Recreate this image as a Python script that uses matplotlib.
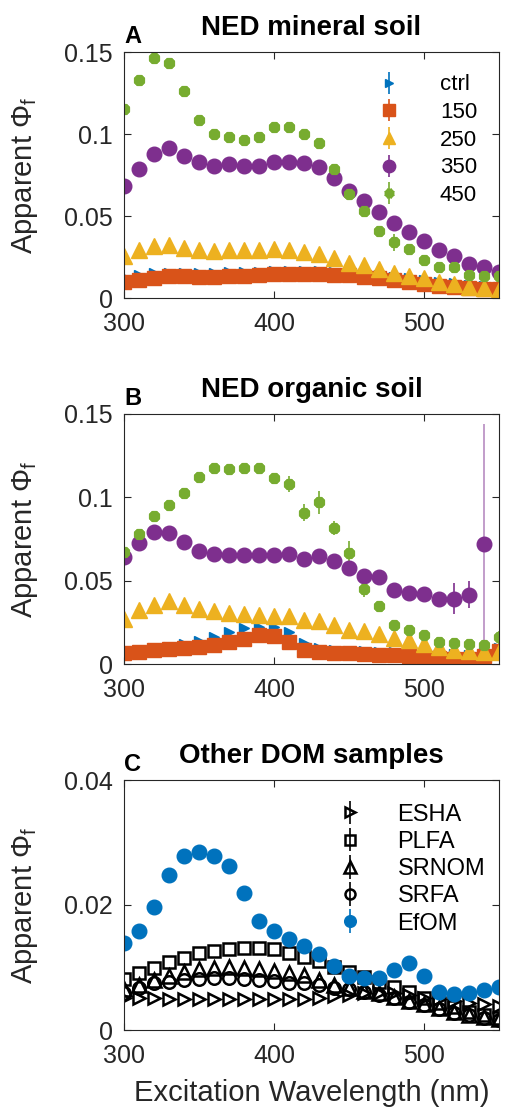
import matplotlib
matplotlib.use('Agg')
import matplotlib.pyplot as plt
import numpy as np

plt.rcParams['font.family'] = ['Liberation Sans', 'DejaVu Sans']
plt.rcParams['mathtext.fontset'] = 'custom'
plt.rcParams['mathtext.rm'] = 'Liberation Sans'

wl = np.arange(300, 551, 10)

# panel A: NED mineral soil
min_ctrl = [0.013, 0.014, 0.015, 0.0155, 0.0155, 0.0155, 0.0155, 0.016, 0.016, 0.016, 0.0165, 0.0165, 0.0165,
            0.0165, 0.016, 0.0155, 0.015, 0.014, 0.013, 0.012, 0.011, 0.0095, 0.009, 0.008, 0.0075, 0.007]
min_150 = [0.0097, 0.011, 0.0125, 0.0135, 0.0135, 0.013, 0.013, 0.0134, 0.0136, 0.014, 0.0145, 0.0145, 0.0145,
           0.0145, 0.0143, 0.014, 0.013, 0.012, 0.011, 0.0097, 0.0087, 0.0075, 0.0067, 0.006, 0.0055, 0.0055]
min_250 = [0.0257, 0.029, 0.0318, 0.0324, 0.0304, 0.029, 0.0284, 0.029, 0.029, 0.029, 0.0298, 0.029, 0.028,
           0.027, 0.0243, 0.0213, 0.020, 0.0178, 0.015, 0.0136, 0.012, 0.0095, 0.0087, 0.007, 0.006, 0.005]
min_350 = [0.0683, 0.0784, 0.0878, 0.0912, 0.0868, 0.0827, 0.0805, 0.0815, 0.0805, 0.0807, 0.0827, 0.0827, 0.0821,
           0.0797, 0.0734, 0.0655, 0.0594, 0.0527, 0.046, 0.0405, 0.0345, 0.0294, 0.0257, 0.0209, 0.0186, 0.0158]
min_450 = [0.1155, 0.1328, 0.1466, 0.143, 0.126, 0.1084, 0.0999, 0.0979, 0.0963, 0.0983, 0.104, 0.104, 0.100,
           0.0943, 0.0784, 0.0634, 0.0531, 0.0409, 0.0339, 0.030, 0.0233, 0.0186, 0.0186, 0.0142, 0.0132, 0.0132]
min_450_err = [0] * 18 + [0.005, 0, 0, 0, 0.003, 0.003, 0.003, 0.003]

# panel B: NED organic soil
org_ctrl = [0.0065, 0.0075, 0.009, 0.0105, 0.012, 0.014, 0.016, 0.019, 0.0215, 0.0225, 0.0225, 0.019, 0.0125,
            0.0095, 0.0085, 0.008, 0.0078, 0.0075, 0.0075, 0.007, 0.0065, 0.006, 0.0058, 0.0055, 0.0065, 0.0095]
org_150 = [0.0067, 0.0073, 0.0083, 0.0091, 0.0095, 0.0103, 0.0115, 0.0133, 0.0151, 0.0173, 0.0171, 0.0133, 0.0083,
           0.0073, 0.0067, 0.0067, 0.0063, 0.0057, 0.0053, 0.0047, 0.0043, 0.0037, 0.0033, 0.0031, 0.0047, 0.008]
org_250 = [0.027, 0.0326, 0.0356, 0.0376, 0.0356, 0.033, 0.0316, 0.0306, 0.030, 0.0296, 0.0286, 0.0286, 0.0266,
           0.0256, 0.0236, 0.0206, 0.0196, 0.0183, 0.0157, 0.0143, 0.0123, 0.0103, 0.0087, 0.0077, 0.0071, 0.0071]
org_350 = [0.0642, 0.0726, 0.079, 0.0785, 0.073, 0.0676, 0.066, 0.0656, 0.0655, 0.0656, 0.0656, 0.0662, 0.063,
           0.0646, 0.0616, 0.0574, 0.053, 0.052, 0.0446, 0.0426, 0.0422, 0.0392, 0.0392, 0.0416, 0.0722, np.nan]
org_350_err = [0] * 18 + [0.003, 0.002, 0.004, 0.004, 0.0094, 0.008, 0, 0]
org_350_big_err = [0] * 24 + [0.072, 0]
org_450 = [0.067, 0.0781, 0.089, 0.0951, 0.1025, 0.112, 0.1173, 0.1169, 0.1173, 0.1173, 0.1115, 0.108, 0.0909,
           0.097, 0.0816, 0.0666, 0.045, 0.035, 0.0236, 0.0206, 0.0177, 0.0133, 0.0127, 0.0123, 0.0117, 0.016]
org_450_err = [0] * 11 + [0.005, 0.005, 0.007, 0.004, 0.007, 0.005, 0, 0, 0, 0, 0, 0, 0, 0, 0.004]

# panel C: other DOM samples
esha = [0.0051, 0.0052, 0.0051, 0.005, 0.0049, 0.0049, 0.0049, 0.0049, 0.0049, 0.0049, 0.0049, 0.0049, 0.0049,
        0.0051, 0.0054, 0.0056, 0.0059, 0.006, 0.0059, 0.0056, 0.0052, 0.0049, 0.0047, 0.0044, 0.0041, 0.0038]
plfa = [0.0082, 0.0091, 0.0099, 0.0109, 0.0115, 0.0124, 0.0127, 0.013, 0.0131, 0.0132, 0.013, 0.0124, 0.0117,
        0.0111, 0.0101, 0.0093, 0.0085, 0.0077, 0.0069, 0.0061, 0.0052, 0.0044, 0.0037, 0.0029, 0.0024, 0.0019]
srnom = [0.0065, 0.0072, 0.008, 0.0086, 0.0093, 0.0097, 0.01, 0.0101, 0.01, 0.0098, 0.0095, 0.0091, 0.0088,
         0.008, 0.0072, 0.0067, 0.0063, 0.0059, 0.0053, 0.0047, 0.0042, 0.0035, 0.0029, 0.0024, 0.0021, 0.0017]
srfa = [0.0059, 0.0067, 0.0075, 0.0077, 0.008, 0.0082, 0.0083, 0.0083, 0.0082, 0.008, 0.0079, 0.0076, 0.0075,
        0.0072, 0.0068, 0.0065, 0.0061, 0.0056, 0.0051, 0.0045, 0.004, 0.0033, 0.0028, 0.0024, 0.002, 0.0016]
efom = [0.014, 0.0159, 0.0197, 0.0248, 0.0279, 0.0285, 0.0279, 0.0263, 0.0219, 0.0175, 0.0158, 0.0145, 0.0135,
        0.0121, 0.0102, 0.0087, 0.0083, 0.0084, 0.0096, 0.0107, 0.0087, 0.0061, 0.0057, 0.0059, 0.0064, 0.0069]

soil_labels = ['ctrl', '150', '250', '350', '450']
dom_labels = ['ESHA', 'PLFA', 'SRNOM', 'SRFA', 'EfOM']

blue = '#0072BD'
orange = '#D95319'
yellow = '#EDB120'
purple = '#7E2F8E'
green = '#77AC30'

ylab = 'Apparent $\\Phi_\\mathregular{f}$'
star = (8, 2, 0)


def style_axes(ax, letter, title, yticks, yticklabels, ylim):
    ax.set_xlim(300, 550)
    ax.set_ylim(*ylim)
    ax.set_xticks([300, 400, 500])
    ax.set_yticks(yticks)
    ax.set_yticklabels(yticklabels)
    ax.tick_params(direction='in', length=5, width=0.8, labelsize=18, colors='0.15',
                   top=True, right=True, labelcolor='0.15')
    ax.tick_params(axis='x', pad=10)
    ax.tick_params(axis='y', pad=8)
    for s in ax.spines.values():
        s.set_color('0.15')
        s.set_linewidth(0.8)
    ax.set_title(title, fontsize=20, fontweight='bold', pad=12)
    ax.text(0, 1.035, letter, transform=ax.transAxes, fontsize=17, fontweight='bold',
            ha='left', va='baseline')
    ax.set_ylabel(ylab, fontsize=21, color='0.15')
    ax.yaxis.set_label_coords(-0.225, 0.5)


def soil_panel(ax, series, errs):
    styles = [
        dict(marker='>', ms=7, color=blue, mfc=blue, mec=blue),
        dict(marker='s', ms=9.5, color=orange, mfc=orange, mec=orange),
        dict(marker='^', ms=11, color=yellow, mfc=yellow, mec=yellow),
        dict(marker='o', ms=10.5, color=purple, mfc=purple, mec=purple),
        dict(marker=star, ms=8, color=green, mfc=green, mec=green, mew=3.2),
    ]
    for vals, err, st, lab in zip(series, errs, styles, soil_labels):
        ax.errorbar(wl, vals, yerr=err, linestyle='none', capsize=0, elinewidth=1.2, label=lab, **st)


fig = plt.figure(figsize=(5.06, 11.14), dpi=100)
axA = fig.add_axes([124 / 506, 1 - 298 / 1114, 375 / 506, 246 / 1114])
axB = fig.add_axes([124 / 506, 1 - 664 / 1114, 375 / 506, 250 / 1114])
axC = fig.add_axes([124 / 506, 1 - 1030 / 1114, 375 / 506, 250 / 1114])

zeros = [0] * len(wl)
soil_panel(axA, [min_ctrl, min_150, min_250, min_350, min_450], [zeros, zeros, zeros, zeros, min_450_err])
style_axes(axA, 'A', 'NED mineral soil', [0, 0.05, 0.1, 0.15], ['0', '0.05', '0.1', '0.15'], (0, 0.15))
axA.legend(frameon=False, fontsize=16, loc='upper right', bbox_to_anchor=(0.995, 0.99),
           markerscale=0.85, handlelength=1.2, handletextpad=1.7, labelspacing=0.3)

soil_panel(axB, [org_ctrl, org_150, org_250, org_350, org_450], [zeros, zeros, zeros, org_350_err, org_450_err])
axB.errorbar(wl, org_350, yerr=org_350_big_err, linestyle='none', capsize=0, elinewidth=1.2,
             color=purple, alpha=0.55, marker='none')
style_axes(axB, 'B', 'NED organic soil', [0, 0.05, 0.1, 0.15], ['0', '0.05', '0.1', '0.15'], (0, 0.15))

dom_styles = [
    dict(marker='>', ms=9, color='k', mfc='none', mec='k', mew=1.8),
    dict(marker='s', ms=9, color='k', mfc='none', mec='k', mew=1.8),
    dict(marker='^', ms=10, color='k', mfc='none', mec='k', mew=1.8),
    dict(marker='o', ms=9, color='k', mfc='none', mec='k', mew=1.8),
    dict(marker='o', ms=10.5, color=blue, mfc=blue, mec=blue),
]
for vals, st, lab in zip([esha, plfa, srnom, srfa, efom], dom_styles, dom_labels):
    axC.errorbar(wl, vals, yerr=zeros, linestyle='none', capsize=0, elinewidth=1.2, label=lab, **st)
style_axes(axC, 'C', 'Other DOM samples', [0, 0.02, 0.04], ['0', '0.02', '0.04'], (0, 0.04))
axC.legend(frameon=False, fontsize=17, loc='upper right', bbox_to_anchor=(1.02, 0.99),
           markerscale=0.8, handlelength=1.2, handletextpad=1.4, labelspacing=0.22)
axC.set_xlabel('Excitation Wavelength (nm)', fontsize=21, color='0.15', labelpad=8)

fig.savefig('out.png', dpi=100)
